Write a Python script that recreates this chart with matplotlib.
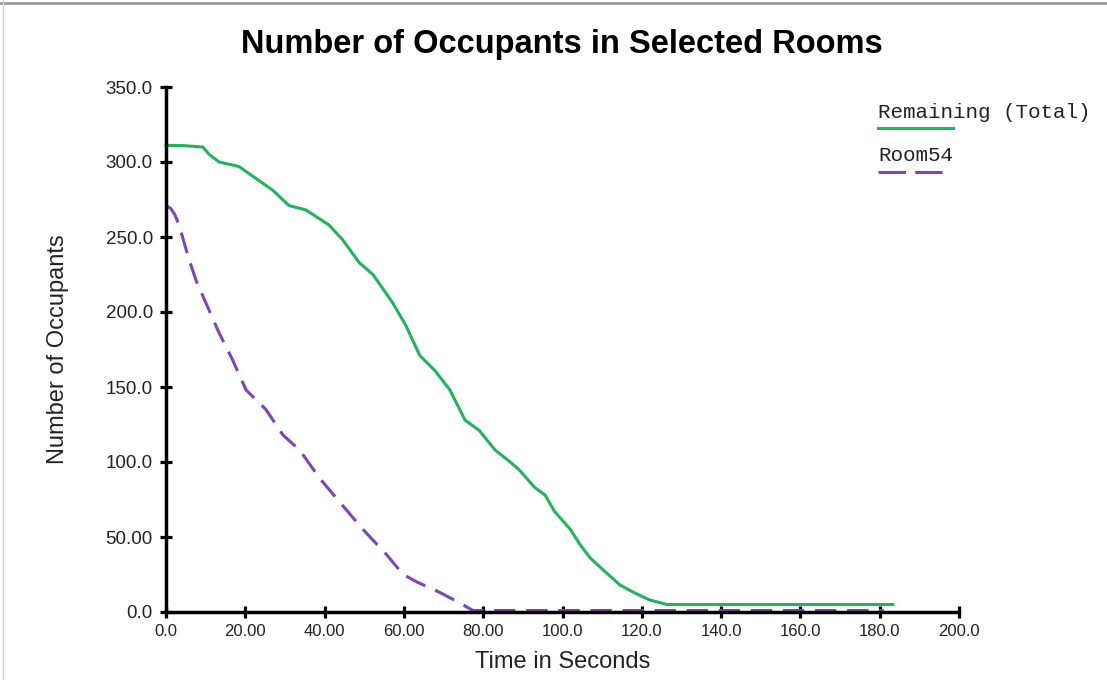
import matplotlib
matplotlib.use("Agg")
import matplotlib.pyplot as plt
from matplotlib.lines import Line2D

# Remaining (Total) occupants over time
total_t = [0, 4, 9.3, 10.9, 13.4, 18.4, 22.7, 27, 31, 35.3, 41.1, 44.6, 48.7, 52.2, 57.2, 60.5,
           64, 67.8, 71.6, 75.4, 79, 83, 86.8, 89, 93, 95.6, 98, 102, 104.4, 107, 110.7,
           114.5, 118, 122, 126.4, 183.3]
total_n = [311, 311, 310, 305, 300, 297, 289, 281, 271, 268, 258, 248, 233, 225, 206, 191,
           171, 161, 148, 128, 121, 108, 100, 95, 83, 78, 67, 55, 45, 36, 27,
           18, 13, 8, 5, 5]

# Room54 occupants over time
room_t = [0, 1.2, 2.2, 3.3, 5.8, 7.6, 10.9, 13.4, 16.8, 20.2, 25.2, 29.5, 33.7, 38.8, 43.9, 49.7,
          55.7, 59.8, 63.3, 69.1, 74.1, 77.4, 181]
room_n = [271, 269, 265, 258, 235, 221, 201, 186, 168, 148, 135, 118, 108, 89, 73, 55,
          38, 25, 20, 13, 6, 1, 1]

x_ticks = [0, 20, 40, 60, 80, 100, 120, 140, 160, 180, 200]
x_labels = ["0.0", "20.00", "40.00", "60.00", "80.00", "100.0", "120.0", "140.0", "160.0", "180.0", "200.0"]
y_ticks = [0, 50, 100, 150, 200, 250, 300, 350]
y_labels = ["0.0", "50.00", "100.0", "150.0", "200.0", "250.0", "300.0", "350.0"]

green = "#22b45c"
purple = "#7e46b4"

plt.rcParams["font.family"] = ["Liberation Sans", "DejaVu Sans"]

fig = plt.figure(figsize=(11.07, 6.80), dpi=100)
ax = fig.add_axes([166 / 1107, 1 - 612 / 680, 793 / 1107, 525 / 680])

ax.plot(total_t, total_n, color=green, lw=2.2, solid_joinstyle="round", clip_on=False)
ax.plot(room_t, room_n, color=purple, lw=2.2, dashes=(7, 3.5), clip_on=False)

ax.set_xlim(0, 200)
ax.set_ylim(0, 350)
ax.set_xticks(x_ticks)
ax.set_xticklabels(x_labels)
ax.set_yticks(y_ticks)
ax.set_yticklabels(y_labels)

for side in ["top", "right"]:
    ax.spines[side].set_visible(False)
for side in ["left", "bottom"]:
    ax.spines[side].set_linewidth(2.5)
ax.tick_params(direction="inout", length=9, width=2.3, labelcolor="#222222")
ax.tick_params(axis="x", labelsize=12, pad=4)
ax.tick_params(axis="y", labelsize=13.5, pad=5)

ax.set_xlabel("Time in Seconds", fontsize=17, color="#222222", labelpad=9)
ax.set_ylabel("Number of Occupants", fontsize=17, color="#222222", labelpad=26)
fig.suptitle("Number of Occupants in Selected Rooms", x=562 / 1107, y=1 - 45 / 680, va="center",
             fontsize=23.5, fontweight="bold")

# legend: label text with sample line underneath
mono = ["Liberation Mono", "DejaVu Sans Mono"]
ax.text(0.898, 0.952, "Remaining (Total)", transform=ax.transAxes, family=mono, fontsize=15,
        va="center", ha="left", color="#222222")
ax.add_line(Line2D([0.898, 0.9924], [0.922, 0.922], transform=ax.transAxes, color=green,
                   lw=2.2, clip_on=False))
ax.text(0.898, 0.870, "Room54", transform=ax.transAxes, family=mono, fontsize=15,
        va="center", ha="left", color="#222222")
ax.add_line(Line2D([0.898, 0.982], [0.838, 0.838], transform=ax.transAxes, color=purple,
                   lw=2.2, dashes=(9, 3), clip_on=False))

# thin frame edges at top and left of the image
fig.add_artist(Line2D([0, 1], [0.996, 0.996], color="#9a9a9a", lw=2))
fig.add_artist(Line2D([0.003, 0.003], [0, 1], color="#d0d0d0", lw=1))

fig.savefig("out.png", dpi=100)
